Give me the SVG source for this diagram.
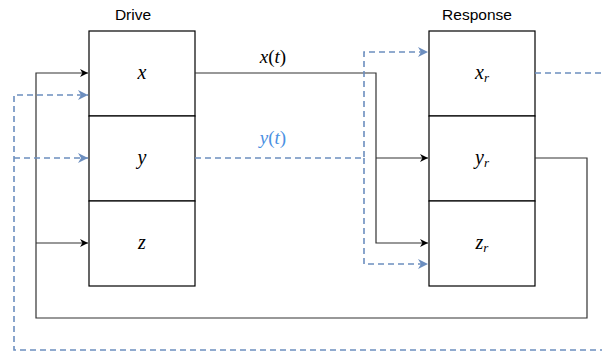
<svg xmlns="http://www.w3.org/2000/svg" width="602" height="356" viewBox="0 0 602 356">
  <style>
    .box { fill: #ffffff; stroke: #000000; stroke-width: 1.2; }
    .solid { fill: none; stroke: #333333; stroke-width: 1.2; }
    .dash { fill: none; stroke: #6c8ebf; stroke-width: 1.6; stroke-dasharray: 6 4; }
  </style>
  <defs>
    <marker id="arrBlack" viewBox="0 0 10 10" refX="10" refY="5" markerWidth="8" markerHeight="8" markerUnits="userSpaceOnUse" orient="auto">
      <path d="M0,0 L10,5 L0,10 L3,5 Z" fill="#000000"/>
    </marker>
    <marker id="arrBlue" viewBox="0 0 10 10" refX="10" refY="5" markerWidth="10" markerHeight="10" markerUnits="userSpaceOnUse" orient="auto">
      <path d="M0,0 L10,5 L0,10 L3,5 Z" fill="#6c8ebf"/>
    </marker>
  </defs>

  <!-- Section titles -->
  <text x="133" y="20" font-family="Liberation Sans" font-size="15.5" text-anchor="middle">Drive</text>
  <text x="477" y="20" font-family="Liberation Sans" font-size="15.5" text-anchor="middle">Response</text>

  <!-- Drive boxes -->
  <g id="drive-x">
    <rect class="box" x="89" y="31" width="106" height="85"/>
    <text x="142" y="79" font-family="Liberation Serif" font-style="italic" font-size="20" text-anchor="middle">x</text>
  </g>
  <g id="drive-y">
    <rect class="box" x="89" y="116" width="106" height="85"/>
    <text x="142" y="164" font-family="Liberation Serif" font-style="italic" font-size="20" text-anchor="middle">y</text>
  </g>
  <g id="drive-z">
    <rect class="box" x="89" y="201" width="106" height="85"/>
    <text x="142" y="249" font-family="Liberation Serif" font-style="italic" font-size="20" text-anchor="middle">z</text>
  </g>

  <!-- Response boxes -->
  <g id="response-x">
    <rect class="box" x="429" y="31" width="106" height="85"/>
    <text x="482" y="79" font-family="Liberation Serif" font-style="italic" font-size="20" text-anchor="middle">x<tspan font-size="13" dy="3">r</tspan></text>
  </g>
  <g id="response-y">
    <rect class="box" x="429" y="116" width="106" height="85"/>
    <text x="482" y="164" font-family="Liberation Serif" font-style="italic" font-size="20" text-anchor="middle">y<tspan font-size="13" dy="3">r</tspan></text>
  </g>
  <g id="response-z">
    <rect class="box" x="429" y="201" width="106" height="85"/>
    <text x="482" y="249" font-family="Liberation Serif" font-style="italic" font-size="20" text-anchor="middle">z<tspan font-size="13" dy="3">r</tspan></text>
  </g>

  <!-- Signal labels -->
  <text x="273" y="63" font-family="Liberation Serif" font-size="19" text-anchor="middle" fill="#000000"><tspan font-style="italic">x</tspan>(<tspan font-style="italic">t</tspan>)</text>
  <text x="273" y="144" font-family="Liberation Serif" font-size="19" text-anchor="middle" fill="#4a90e2"><tspan font-style="italic">y</tspan>(<tspan font-style="italic">t</tspan>)</text>

  <g id="connectors">
    <!-- x(t): drive x to response y and z -->
    <path class="solid" d="M195,73 H376 V243 H428" marker-end="url(#arrBlack)"/>
    <path class="solid" d="M376,158 H428" marker-end="url(#arrBlack)"/>
    <!-- y(t): drive y to response x and z -->
    <path class="dash" d="M195,158 H364 V52 H428" marker-end="url(#arrBlue)"/>
    <path class="dash" d="M364,158 V264 H428" marker-end="url(#arrBlue)"/>
    <!-- feedback from y_r to drive x and z -->
    <path class="solid" d="M535,158 H587 V318 H36 V73 H88" marker-end="url(#arrBlack)"/>
    <path class="solid" d="M36,243 H88" marker-end="url(#arrBlack)"/>
    <!-- feedback from x_r to drive x and y -->
    <path class="dash" d="M535,73 H612 V350 H14 V95 H88" marker-end="url(#arrBlue)"/>
    <path class="dash" d="M14,158 H88" marker-end="url(#arrBlue)"/>
  </g>
</svg>
